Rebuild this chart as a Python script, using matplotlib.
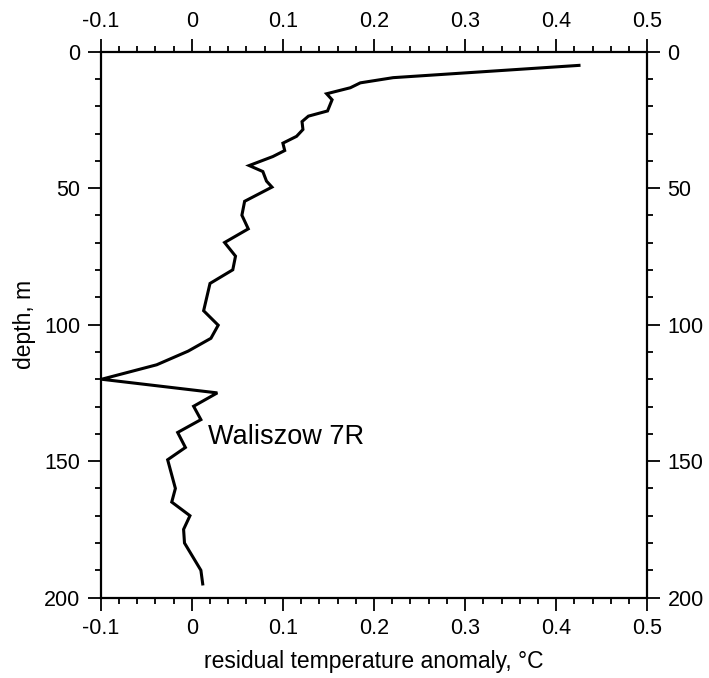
import matplotlib
matplotlib.use("Agg")
import matplotlib.pyplot as plt
from matplotlib.ticker import MultipleLocator

plt.rcParams['font.family'] = ['Liberation Sans', 'DejaVu Sans']

# residual temperature anomaly profile
depth = [5, 9.5, 11.4, 13.2, 15.4, 17.6, 21.7, 23.6, 25.6, 28.5, 31, 33.5, 36.2,
         38.4, 41.7, 43.9, 47.4, 49.6, 54.8, 59.9, 64.9, 69.9, 74.9, 79.9, 84.9,
         94.9, 100.2, 105, 109.7, 114.7, 120, 125, 129.9, 134.8, 139.5, 145,
         149.5, 160, 165, 170, 175, 180, 190, 195]
anomaly = [0.425, 0.221, 0.185, 0.174, 0.148, 0.154, 0.149, 0.128, 0.121, 0.122,
           0.115, 0.100, 0.102, 0.089, 0.063, 0.078, 0.082, 0.088, 0.058, 0.055,
           0.062, 0.036, 0.048, 0.045, 0.020, 0.013, 0.029, 0.021, -0.004, -0.0385,
           -0.099, 0.028, 0.002, 0.010, -0.0155, -0.007, -0.0265, -0.018, -0.022,
           -0.002, -0.009, -0.008, 0.010, 0.012]

xticks = [-0.1, 0, 0.1, 0.2, 0.3, 0.4, 0.5]
xticklabels = ['-0.1', '0', '0.1', '0.2', '0.3', '0.4', '0.5']
yticks = [0, 50, 100, 150, 200]

fig = plt.figure(figsize=(7.09, 6.78), dpi=100)
ax = fig.add_axes([0.142, 0.1186, 0.771, 0.8051])

ax.plot(anomaly, depth, color='black', lw=2.2, solid_joinstyle='miter')

ax.set_xlim(-0.1, 0.5)
ax.set_ylim(200, 0)
ax.set_xticks(xticks)
ax.set_xticklabels(xticklabels)
ax.set_yticks(yticks)
ax.xaxis.set_minor_locator(MultipleLocator(0.02))
ax.yaxis.set_minor_locator(MultipleLocator(10))

ax.tick_params(which='both', direction='out', top=True, right=True,
               labeltop=True, labelright=True, width=1.3, labelsize=15.5)
ax.tick_params(which='major', length=9.5, pad=5)
ax.tick_params(which='minor', length=4.5)
for s in ax.spines.values():
    s.set_linewidth(1.6)

ax.set_xlabel('residual temperature anomaly, °C', fontsize=16.5, labelpad=8)
ax.set_ylabel('depth, m', fontsize=16.5, labelpad=6)

ax.text(0.018, 141, 'Waliszow 7R', fontsize=19.5, va='center', ha='left')

fig.savefig('out.png', dpi=100)
